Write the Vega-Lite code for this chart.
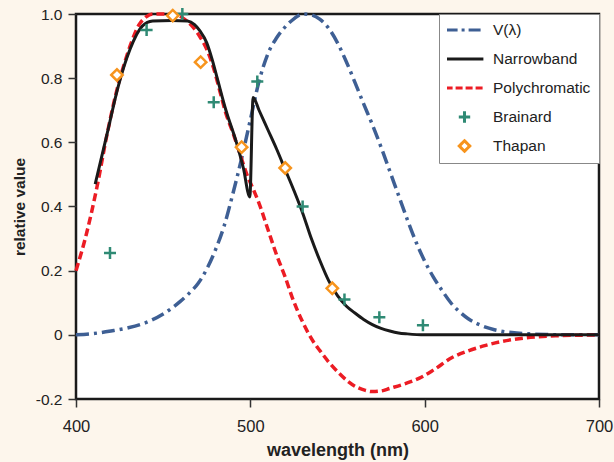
{
  "$schema": "https://vega.github.io/schema/vega-lite/v6.json",
  "width": 523,
  "height": 385,
  "autosize": {"type": "none"},
  "padding": {"left": 76, "top": 14, "right": 15, "bottom": 63},
  "background": "#fdf6ec",
  "config": {
    "view": {"stroke": "#1a1a1a", "strokeWidth": 2.5, "fill": "white"},
    "font": "Liberation Sans",
    "axis": {"grid": false, "domain": false, "tickColor": "#333", "tickSize": 8, "tickWidth": 1.5, "labelColor": "#222", "titleColor": "#222", "titleFontWeight": "bold"}
  },
  "datasets": {
    "lines": [
      {"series": "V(λ)", "wl": 400, "v": 0.0},
      {"series": "V(λ)", "wl": 410, "v": 0.004},
      {"series": "V(λ)", "wl": 420, "v": 0.012},
      {"series": "V(λ)", "wl": 430, "v": 0.022},
      {"series": "V(λ)", "wl": 440, "v": 0.038},
      {"series": "V(λ)", "wl": 450, "v": 0.065},
      {"series": "V(λ)", "wl": 460, "v": 0.105},
      {"series": "V(λ)", "wl": 465, "v": 0.13},
      {"series": "V(λ)", "wl": 470, "v": 0.16},
      {"series": "V(λ)", "wl": 475, "v": 0.205},
      {"series": "V(λ)", "wl": 480, "v": 0.265},
      {"series": "V(λ)", "wl": 485, "v": 0.34},
      {"series": "V(λ)", "wl": 490, "v": 0.44},
      {"series": "V(λ)", "wl": 495, "v": 0.55},
      {"series": "V(λ)", "wl": 500, "v": 0.67},
      {"series": "V(λ)", "wl": 505, "v": 0.79},
      {"series": "V(λ)", "wl": 510, "v": 0.875},
      {"series": "V(λ)", "wl": 515, "v": 0.925},
      {"series": "V(λ)", "wl": 520, "v": 0.96},
      {"series": "V(λ)", "wl": 525, "v": 0.985},
      {"series": "V(λ)", "wl": 530, "v": 1.0},
      {"series": "V(λ)", "wl": 535, "v": 0.997},
      {"series": "V(λ)", "wl": 540, "v": 0.983},
      {"series": "V(λ)", "wl": 545, "v": 0.955},
      {"series": "V(λ)", "wl": 550, "v": 0.91},
      {"series": "V(λ)", "wl": 555, "v": 0.852},
      {"series": "V(λ)", "wl": 560, "v": 0.787},
      {"series": "V(λ)", "wl": 565, "v": 0.72},
      {"series": "V(λ)", "wl": 570, "v": 0.655},
      {"series": "V(λ)", "wl": 575, "v": 0.585},
      {"series": "V(λ)", "wl": 580, "v": 0.51},
      {"series": "V(λ)", "wl": 585, "v": 0.435},
      {"series": "V(λ)", "wl": 590, "v": 0.36},
      {"series": "V(λ)", "wl": 595, "v": 0.29},
      {"series": "V(λ)", "wl": 600, "v": 0.23},
      {"series": "V(λ)", "wl": 605, "v": 0.18},
      {"series": "V(λ)", "wl": 610, "v": 0.138},
      {"series": "V(λ)", "wl": 615, "v": 0.1},
      {"series": "V(λ)", "wl": 620, "v": 0.072},
      {"series": "V(λ)", "wl": 625, "v": 0.05},
      {"series": "V(λ)", "wl": 630, "v": 0.035},
      {"series": "V(λ)", "wl": 640, "v": 0.016},
      {"series": "V(λ)", "wl": 650, "v": 0.007},
      {"series": "V(λ)", "wl": 660, "v": 0.003},
      {"series": "V(λ)", "wl": 670, "v": 0.001},
      {"series": "V(λ)", "wl": 680, "v": 0.0},
      {"series": "V(λ)", "wl": 700, "v": 0.0},
      {"series": "Narrowband", "wl": 411, "v": 0.47},
      {"series": "Narrowband", "wl": 418, "v": 0.63},
      {"series": "Narrowband", "wl": 424, "v": 0.77},
      {"series": "Narrowband", "wl": 431, "v": 0.89},
      {"series": "Narrowband", "wl": 438, "v": 0.962},
      {"series": "Narrowband", "wl": 444, "v": 0.978},
      {"series": "Narrowband", "wl": 455, "v": 0.98},
      {"series": "Narrowband", "wl": 464, "v": 0.978},
      {"series": "Narrowband", "wl": 468, "v": 0.967},
      {"series": "Narrowband", "wl": 471, "v": 0.948},
      {"series": "Narrowband", "wl": 475, "v": 0.91},
      {"series": "Narrowband", "wl": 478, "v": 0.86},
      {"series": "Narrowband", "wl": 481, "v": 0.8},
      {"series": "Narrowband", "wl": 486, "v": 0.7},
      {"series": "Narrowband", "wl": 492, "v": 0.6},
      {"series": "Narrowband", "wl": 496, "v": 0.52},
      {"series": "Narrowband", "wl": 499.7, "v": 0.43},
      {"series": "Narrowband", "wl": 501.6, "v": 0.74},
      {"series": "Narrowband", "wl": 505, "v": 0.7},
      {"series": "Narrowband", "wl": 510, "v": 0.64},
      {"series": "Narrowband", "wl": 515, "v": 0.58},
      {"series": "Narrowband", "wl": 520, "v": 0.515},
      {"series": "Narrowband", "wl": 525, "v": 0.45},
      {"series": "Narrowband", "wl": 530, "v": 0.38},
      {"series": "Narrowband", "wl": 535, "v": 0.3},
      {"series": "Narrowband", "wl": 540, "v": 0.23},
      {"series": "Narrowband", "wl": 545, "v": 0.168},
      {"series": "Narrowband", "wl": 550, "v": 0.122},
      {"series": "Narrowband", "wl": 555, "v": 0.09},
      {"series": "Narrowband", "wl": 560, "v": 0.068},
      {"series": "Narrowband", "wl": 565, "v": 0.048},
      {"series": "Narrowband", "wl": 570, "v": 0.032},
      {"series": "Narrowband", "wl": 575, "v": 0.02},
      {"series": "Narrowband", "wl": 580, "v": 0.012},
      {"series": "Narrowband", "wl": 585, "v": 0.006},
      {"series": "Narrowband", "wl": 590, "v": 0.003},
      {"series": "Narrowband", "wl": 600, "v": 0.0},
      {"series": "Narrowband", "wl": 700, "v": 0.0},
      {"series": "Polychromatic", "wl": 400, "v": 0.2},
      {"series": "Polychromatic", "wl": 406, "v": 0.315},
      {"series": "Polychromatic", "wl": 412, "v": 0.46},
      {"series": "Polychromatic", "wl": 418, "v": 0.63},
      {"series": "Polychromatic", "wl": 424, "v": 0.775},
      {"series": "Polychromatic", "wl": 428, "v": 0.85},
      {"series": "Polychromatic", "wl": 432, "v": 0.915},
      {"series": "Polychromatic", "wl": 436, "v": 0.965},
      {"series": "Polychromatic", "wl": 440, "v": 0.99},
      {"series": "Polychromatic", "wl": 444, "v": 1.0},
      {"series": "Polychromatic", "wl": 455, "v": 1.0},
      {"series": "Polychromatic", "wl": 462, "v": 0.985},
      {"series": "Polychromatic", "wl": 467, "v": 0.96},
      {"series": "Polychromatic", "wl": 471, "v": 0.93},
      {"series": "Polychromatic", "wl": 475, "v": 0.89},
      {"series": "Polychromatic", "wl": 479, "v": 0.83},
      {"series": "Polychromatic", "wl": 482.5, "v": 0.76},
      {"series": "Polychromatic", "wl": 486, "v": 0.69},
      {"series": "Polychromatic", "wl": 490, "v": 0.63},
      {"series": "Polychromatic", "wl": 494, "v": 0.565},
      {"series": "Polychromatic", "wl": 498, "v": 0.5},
      {"series": "Polychromatic", "wl": 502, "v": 0.45},
      {"series": "Polychromatic", "wl": 505, "v": 0.41},
      {"series": "Polychromatic", "wl": 510, "v": 0.33},
      {"series": "Polychromatic", "wl": 515, "v": 0.25},
      {"series": "Polychromatic", "wl": 520, "v": 0.18},
      {"series": "Polychromatic", "wl": 524, "v": 0.117},
      {"series": "Polychromatic", "wl": 530, "v": 0.04},
      {"series": "Polychromatic", "wl": 536, "v": -0.02},
      {"series": "Polychromatic", "wl": 540, "v": -0.05},
      {"series": "Polychromatic", "wl": 545, "v": -0.085},
      {"series": "Polychromatic", "wl": 551, "v": -0.12},
      {"series": "Polychromatic", "wl": 556, "v": -0.145},
      {"series": "Polychromatic", "wl": 561, "v": -0.163},
      {"series": "Polychromatic", "wl": 566, "v": -0.173},
      {"series": "Polychromatic", "wl": 570, "v": -0.177},
      {"series": "Polychromatic", "wl": 575, "v": -0.175},
      {"series": "Polychromatic", "wl": 580, "v": -0.167},
      {"series": "Polychromatic", "wl": 590, "v": -0.15},
      {"series": "Polychromatic", "wl": 597, "v": -0.135},
      {"series": "Polychromatic", "wl": 605, "v": -0.11},
      {"series": "Polychromatic", "wl": 616, "v": -0.07},
      {"series": "Polychromatic", "wl": 625, "v": -0.05},
      {"series": "Polychromatic", "wl": 635, "v": -0.033},
      {"series": "Polychromatic", "wl": 645, "v": -0.02},
      {"series": "Polychromatic", "wl": 654, "v": -0.012},
      {"series": "Polychromatic", "wl": 665, "v": -0.006},
      {"series": "Polychromatic", "wl": 675, "v": -0.003},
      {"series": "Polychromatic", "wl": 690, "v": -0.001},
      {"series": "Polychromatic", "wl": 700, "v": 0.0}
    ],
    "points": [
      {"series": "Brainard", "wl": 419.5, "v": 0.255},
      {"series": "Brainard", "wl": 440.5, "v": 0.95},
      {"series": "Brainard", "wl": 461, "v": 1.0},
      {"series": "Brainard", "wl": 479, "v": 0.725},
      {"series": "Brainard", "wl": 504, "v": 0.79},
      {"series": "Brainard", "wl": 530, "v": 0.4},
      {"series": "Brainard", "wl": 554, "v": 0.11},
      {"series": "Brainard", "wl": 574, "v": 0.055},
      {"series": "Brainard", "wl": 599, "v": 0.03},
      {"series": "Thapan", "wl": 423.5, "v": 0.81},
      {"series": "Thapan", "wl": 455.5, "v": 0.995},
      {"series": "Thapan", "wl": 471.5, "v": 0.85},
      {"series": "Thapan", "wl": 495, "v": 0.585},
      {"series": "Thapan", "wl": 520, "v": 0.52},
      {"series": "Thapan", "wl": 547, "v": 0.145}
    ]
  },
  "encoding": {
    "x": {"field": "wl", "type": "quantitative", "scale": {"domain": [400, 700], "nice": false},
      "axis": {"values": [400, 500, 600, 700], "title": "wavelength (nm)", "titleFontSize": 18, "labelFontSize": 16.5, "labelPadding": 11, "titlePadding": 7, "labelFlush": false, "labelOverlap": false}},
    "y": {"field": "v", "type": "quantitative", "scale": {"domain": [-0.2, 1.0], "nice": false, "zero": false},
      "axis": {"values": [-0.2, 0, 0.2, 0.4, 0.6, 0.8, 1.0], "title": "relative value", "titleFontSize": 15.5, "labelFontSize": 15.5, "labelPadding": 6, "titlePadding": 8, "labelFlush": false, "labelOverlap": false,
        "labelExpr": "datum.value === 0 ? '0' : (datum.value < 0 ? '-' + format(-datum.value, '.1f') : format(datum.value, '.1f'))"}},
    "color": {"field": "series", "type": "nominal",
      "scale": {"domain": ["V(λ)", "Narrowband", "Polychromatic", "Brainard", "Thapan"], "range": ["#3e5f94", "#1a1a1a", "#ec1c24", "#2f8a74", "#f7941d"]},
      "legend": {"title": null, "orient": "top-right", "offset": 0, "padding": 8, "strokeColor": "#888", "fillColor": "white",
        "labelFontSize": 15.5, "labelColor": "#222", "rowPadding": 12, "clipHeight": 16, "symbolSize": 196, "symbolOffset": 9, "labelOffset": 20,
        "encode": {"symbols": {"update": {
          "shape": {"signal": "datum.value === 'Brainard' ? 'M-1,0H1M0,-1V1' : (datum.value === 'Thapan' ? 'diamond' : 'M-2.7,0H2.7')"},
          "strokeDash": {"signal": "datum.value === 'V(λ)' ? [12,4,3,4] : (datum.value === 'Polychromatic' ? [7,3] : [1,0])"},
          "fill": {"signal": "datum.value === 'Thapan' ? 'white' : 'transparent'"},
          "strokeWidth": {"value": 3},
          "size": {"signal": "datum.value === 'Brainard' ? 130 : (datum.value === 'Thapan' ? 110 : 196)"},
          "opacity": {"value": 1}
        }}}}}
  },
  "layer": [
    {"data": {"name": "lines"}, "transform": [{"filter": "datum.series === 'V(λ)'"}],
      "mark": {"type": "line", "strokeWidth": 3.5, "strokeDash": [13, 5, 3, 5], "interpolate": "monotone"}},
    {"data": {"name": "lines"}, "transform": [{"filter": "datum.series === 'Polychromatic'"}],
      "mark": {"type": "line", "strokeWidth": 3.5, "strokeDash": [8, 4], "interpolate": "monotone"}},
    {"data": {"name": "lines"}, "transform": [{"filter": "datum.series === 'Narrowband'"}],
      "mark": {"type": "line", "strokeWidth": 3, "interpolate": "monotone"}},
    {"data": {"name": "points"}, "transform": [{"filter": "datum.series === 'Brainard'"}],
      "mark": {"type": "point", "shape": "M-1,0H1M0,-1V1", "filled": false, "strokeWidth": 2.5, "size": 144, "opacity": 1}},
    {"data": {"name": "points"}, "transform": [{"filter": "datum.series === 'Thapan'"}],
      "mark": {"type": "point", "shape": "diamond", "filled": false, "fill": "white", "strokeWidth": 2.5, "size": 130, "opacity": 1}}
  ]
}
